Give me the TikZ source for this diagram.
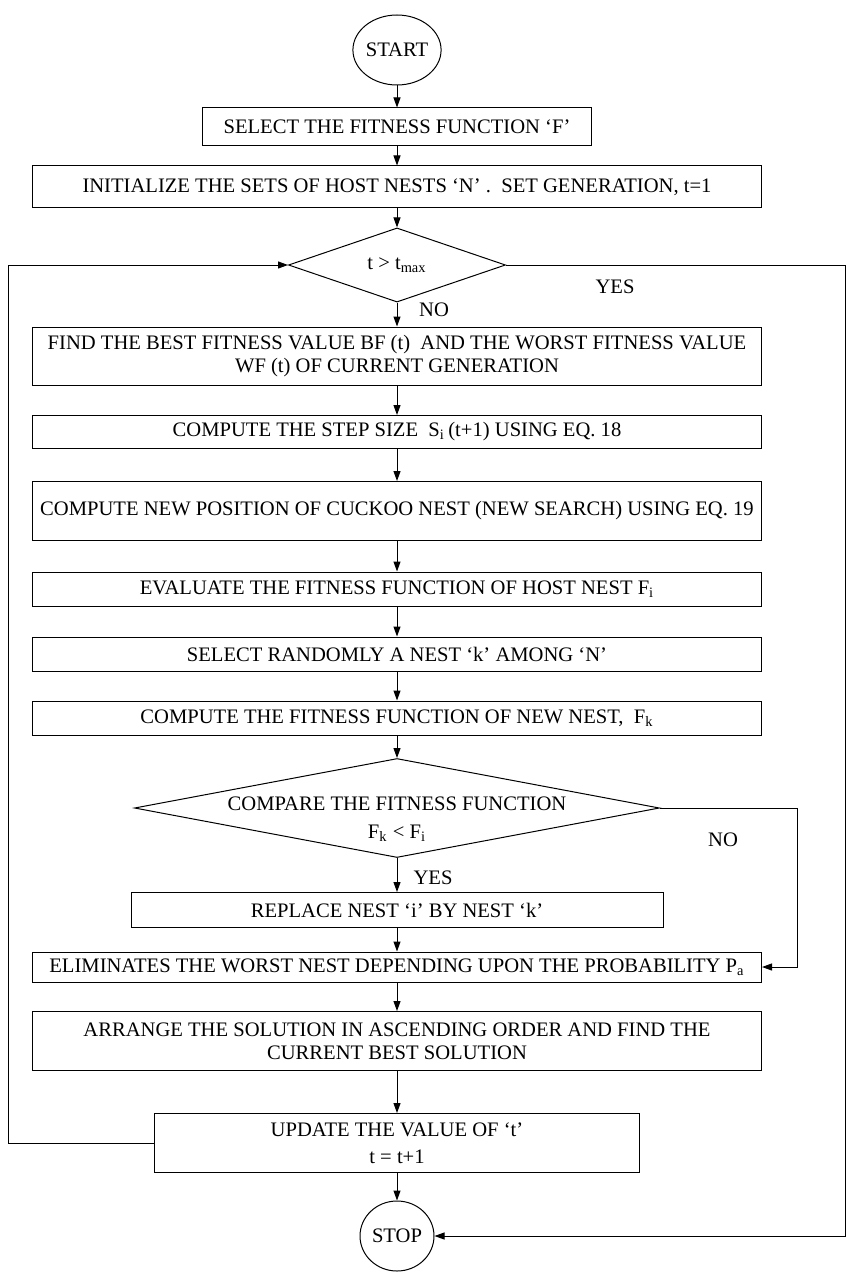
\documentclass[tikz,border=0pt]{standalone}
\usepackage{fontspec}
\setmainfont{Liberation Serif}
\usetikzlibrary{shapes.geometric,arrows.meta}

\begin{document}
\begin{tikzpicture}[x=0.5pt,y=-0.5pt,font=\fontsize{10.3}{11.5}\selectfont,
		line width=0.5pt,>={Triangle[length=5pt,width=3.5pt]},
		box/.style={draw,inner sep=0pt,align=center,minimum width=364.5pt},
		term/.style={draw,ellipse,inner sep=0pt,minimum width=38pt,minimum height=35pt},
		dec/.style={draw,diamond,inner sep=0pt}]
	\useasboundingbox (0,0) rectangle (846,1273);
	\coordinate (lft) at (8,0);
	\coordinate (rgt) at (845,0);
	\coordinate (rgtb) at (797,0);
	% main column
	\node[term] (start) at (397,50) {START};
	\node[box,minimum width=194.5pt,minimum height=19pt] (sel) at (397,127) {SELECT THE FITNESS FUNCTION ‘F’};
	\node[box,minimum height=21pt] (init) at (397,187) {INITIALIZE THE SETS OF HOST NESTS ‘N’ .\ \ SET GENERATION, t=1};
	\node[dec,minimum width=108.5pt,minimum height=36pt] (dec1) at (397,265) {t > t\textsubscript{max}};
	\node[box,minimum height=29pt] (find) at (397,356) {FIND THE BEST FITNESS VALUE BF (t)\ \ AND THE WORST FITNESS VALUE\\WF (t) OF CURRENT GENERATION};
	\node[box,minimum height=16.5pt] (step) at (397,432) {COMPUTE THE STEP SIZE\ \ S\textsubscript{i}\,(t+1) USING EQ. 18};
	\node[box,minimum height=29.5pt] (newpos) at (397,511) {COMPUTE NEW POSITION OF CUCKOO NEST (NEW SEARCH) USING EQ. 19};
	\node[box,minimum height=17pt] (eval) at (397,589) {EVALUATE THE FITNESS FUNCTION OF HOST NEST F\textsubscript{i}};
	\node[box,minimum height=17pt] (rand) at (397,654) {SELECT RANDOMLY A NEST ‘k’ AMONG ‘N’};
	\node[box,minimum height=17pt] (fitk) at (397,718) {COMPUTE THE FITNESS FUNCTION OF NEW NEST,\ \ F\textsubscript{k}};
	\node[dec,minimum width=262.5pt,minimum height=49.5pt,
		label={[align=center,yshift=-5.5pt,font=\fontsize{10.3}{14}\selectfont]center:COMPARE THE FITNESS FUNCTION\\F\textsubscript{k} < F\textsubscript{i}}] (dec2) at (397,808) {};
	\node[box,minimum width=266pt,minimum height=17.5pt] (repl) at (397,910) {REPLACE NEST ‘i’ BY NEST ‘k’};
	\node[box,minimum height=15pt] (elim) at (397,967) {ELIMINATES THE WORST NEST DEPENDING UPON THE PROBABILITY P\textsubscript{a}};
	\node[box,minimum height=29.5pt] (arr) at (397,1041) {ARRANGE THE SOLUTION IN ASCENDING ORDER AND FIND THE\\CURRENT BEST SOLUTION};
	\node[box,minimum width=242.5pt,minimum height=29.5pt] (upd) at (397,1143) {UPDATE THE VALUE OF ‘t’\\[2pt]t = t+1};
	\node[term,minimum width=37pt] (stop) at (397,1236) {STOP};
	% branch labels
	\node (yesa) at (615,287) {YES};
	\node (noa) at (434,310) {NO};
	\node (nob) at (723,840) {NO};
	\node (yesb) at (433,878) {YES};
	% arrows
	\foreach \a/\b in {start/sel,sel/init,init/dec1,dec1/find,find/step,step/newpos,newpos/eval,eval/rand,rand/fitk,fitk/dec2,dec2/repl,repl/elim,elim/arr,arr/upd,upd/stop}
		\draw[->] (\a) -- (\b);
	\draw[->] (upd.west) -- (upd.west -| lft) |- (dec1.west);
	\draw[->] (dec1.east) -- (dec1.east -| rgt) |- (stop.east);
	\draw[->] (dec2.east) -- (dec2.east -| rgtb) |- (elim.east);
\end{tikzpicture}
\end{document}
